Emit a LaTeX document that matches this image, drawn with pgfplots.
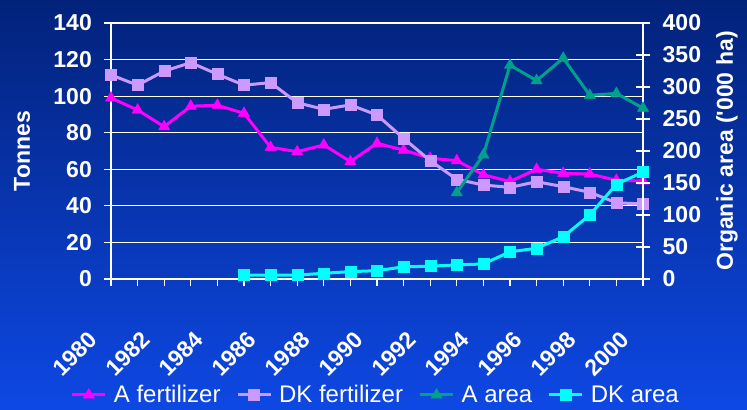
\documentclass[border=0pt]{standalone}
\usepackage{pgfplots}
\pgfplotsset{compat=1.18}
\usepackage{fontspec}
\setmainfont{Liberation Sans}
\definecolor{bgtop}{RGB}{2,34,122}
\definecolor{bgbot}{RGB}{14,72,228}
\definecolor{afert}{RGB}{255,0,255}
\definecolor{dkfert}{RGB}{204,153,255}
\definecolor{aarea}{RGB}{0,160,140}
\definecolor{dkarea}{RGB}{0,255,255}
\newcommand{\tfont}{\fontsize{23bp}{27bp}\selectfont}
\begin{document}
\begin{tikzpicture}
\useasboundingbox (0,0) rectangle (747bp,410bp);
\shade[top color=bgtop, bottom color=bgbot] (0,0) rectangle (747bp,410bp);
\pgfplotsset{
  legend image code/.code={\draw[mark repeat=2,mark phase=2,#1] plot coordinates {(0bp,0bp) (16.5bp,0bp) (33bp,0bp)};},
  afs/.style={color=afert, line width=3bp, mark=triangle*, mark size=6.5bp, mark options={solid, fill=afert, line width=0.4bp}},
  dkfs/.style={color=dkfert, line width=3bp, mark=square*, mark size=5.5bp, mark options={solid, fill=dkfert, line width=0.4bp}},
  aas/.style={color=aarea, line width=3bp, mark=triangle*, mark size=6.5bp, mark options={solid, fill=aarea, line width=0.4bp}},
  dkas/.style={color=dkarea, line width=3bp, mark=square*, mark size=5.5bp, mark options={solid, fill=dkarea, line width=0.4bp}},
}
\begin{axis}[
  scale only axis, width=532bp, height=256bp,
  at={(111bp,131bp)}, anchor=south west,
  xmin=1980, xmax=2000, ymin=0, ymax=140,
  axis x line*=bottom, axis y line*=left,
  axis line style={white, line width=1.3bp, -},
  xtick={1980,...,2000},
  xticklabels={1980,,1982,,1984,,1986,,1988,,1990,,1992,,1994,,1996,,1998,,2000},
  ytick={0,20,...,140},
  ymajorgrids, grid style={white, line width=1.2bp},
  tick style={white, line width=1.2bp},
  tick align=outside, major tick length=7bp,
  /pgf/number format/assume math mode=true,
  x tick label style={font=\tfont\bfseries, text=white, inner sep=0pt, xshift=-24bp, yshift=-44bp, rotate=45, anchor=north east},
  y tick label style={font=\tfont\bfseries, text=white, inner sep=0pt, anchor=east, xshift=-12bp},
  ylabel={\bfseries Tonnes},
  ylabel style={font=\tfont, text=white, at={(axis description cs:-0.167,0.5)}, anchor=center},
  legend columns=-1,
  legend style={draw=none, fill=none, text=white, font=\fontsize{24bp}{28bp}\selectfont,
    at={(axis description cs:0.496,-0.453)}, anchor=center, inner sep=0pt,
    nodes={inner sep=0pt},
    /tikz/every odd column/.append style={column sep=7bp},
    /tikz/every even column/.append style={column sep=15.5bp}},
]
\addplot[afs] coordinates {
(1980,99) (1981,92.4) (1982,83.3) (1983,94.5) (1984,95) (1985,90.6) (1986,72)
(1987,69.6) (1988,73.3) (1989,64.2) (1990,74.2) (1991,70.5) (1992,66) (1993,64.7)
(1994,57) (1995,53.3) (1996,60) (1997,57.8) (1998,57.4) (1999,54) (2000,53.6)};
\addlegendentry{A fertilizer}
\addplot[dkfs] coordinates {
(1980,111.6) (1981,106) (1982,113.7) (1983,118.3) (1984,112) (1985,106) (1986,107.4)
(1987,96.4) (1988,92.8) (1989,95.2) (1990,89.7) (1991,76.9) (1992,64.7) (1993,54.5)
(1994,51.4) (1995,50.1) (1996,53.2) (1997,50.5) (1998,47.4) (1999,41.7) (2000,41)};
\addlegendentry{DK fertilizer}
\addlegendimage{aas}
\addlegendentry{A area}
\addlegendimage{dkas}
\addlegendentry{DK area}
\end{axis}
\begin{axis}[
  scale only axis, width=532bp, height=256bp,
  at={(111bp,131bp)}, anchor=south west,
  xmin=1980, xmax=2000, ymin=0, ymax=400,
  axis x line=none, axis y line*=right,
  axis line style={white, line width=1.3bp, -},
  ytick={0,50,...,400},
  tick style={white, line width=1.2bp},
  tick align=center, major tick length=15bp,
  /pgf/number format/assume math mode=true,
  y tick label style={font=\tfont\bfseries, text=white, inner sep=0pt, anchor=west, xshift=12bp},
  ylabel={\bfseries Organic area (\textquotesingle000 ha)},
  ylabel style={font=\tfont, text=white, at={(axis description cs:1.158,0.5)}, anchor=center},
]
\addplot[aas] coordinates {
(1993,135) (1994,194) (1995,334) (1996,310) (1997,345) (1998,287) (1999,290) (2000,267)};
\addplot[dkas] coordinates {
(1985,6) (1986,6) (1987,6) (1988,9) (1989,11.5) (1990,13) (1991,19) (1992,20)
(1993,22) (1994,23.5) (1995,42.5) (1996,48) (1997,66) (1998,100) (1999,148) (2000,167)};
\end{axis}
\end{tikzpicture}
\end{document}
